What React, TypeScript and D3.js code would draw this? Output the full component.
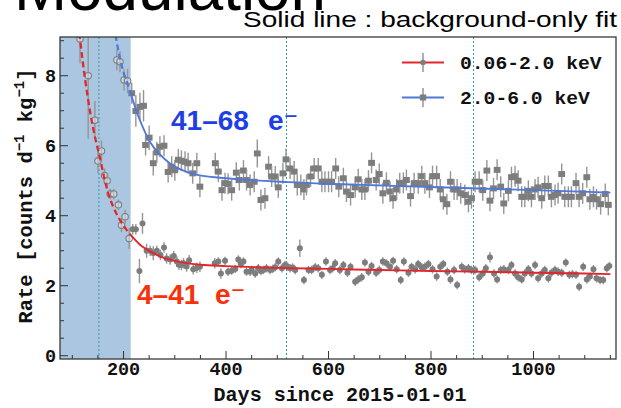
import React from "react";
import * as d3 from "d3";

// ---- data -------------------------------------------------------------
// [day, rate, error] for the low-energy band (0.06-2.0 keV)
const lowBand: [number, number, number][] = [
  [115, 9.05, 0.7], [131, 8.0, 1.8], [144, 6.73, 0.55], [150, 5.56, 0.35], [157, 5.85, 0.3],
  [163, 5.15, 0.2], [168, 5.0, 0.2], [174, 4.62, 0.15], [181, 4.62, 0.15], [190, 4.31, 0.15],
  [196, 3.73, 0.2], [203, 3.97, 0.2], [211, 3.35, 0.3],
  [218, 3.61, 0.15], [224, 3.61, 0.15], [231, 2.42, 0.35], [237, 3.78, 0.3], [245, 3.0, 0.2],
  [252, 3.0, 0.15], [258, 2.93, 0.2], [265, 3.0, 0.15], [272, 2.88, 0.15], [279, 3.09, 0.15],
  [284, 2.78, 0.15], [291, 2.75, 0.15], [298, 2.85, 0.15], [304, 2.69, 0.15], [308, 2.6, 0.15],
  [313, 2.59, 0.15], [317, 2.64, 0.15], [323, 2.55, 0.15], [328, 2.73, 0.15], [336, 2.47, 0.15],
  [343, 2.51, 0.15], [349, 2.54, 0.15],
  [378, 2.64, 0.15], [385, 2.69, 0.12], [390, 2.35, 0.15], [398, 2.71, 0.12], [404, 2.4, 0.12],
  [411, 2.43, 0.12], [418, 2.48, 0.12], [424, 2.75, 0.12], [429, 2.62, 0.12], [434, 2.69, 0.12],
  [440, 2.4, 0.12], [447, 2.4, 0.12], [450, 2.45, 0.12], [457, 2.35, 0.12], [463, 2.5, 0.12],
  [468, 2.42, 0.12], [473, 2.45, 0.12], [479, 2.5, 0.12], [486, 2.45, 0.12], [491, 2.48, 0.12],
  [496, 2.53, 0.12], [502, 2.69, 0.12], [509, 2.5, 0.12], [515, 2.59, 0.12], [520, 2.55, 0.12],
  [525, 2.5, 0.12], [530, 2.52, 0.12], [535, 2.45, 0.12], [544, 3.07, 0.25], [552, 2.16, 0.12],
  [561, 2.45, 0.12], [567, 2.45, 0.12], [574, 2.53, 0.12], [580, 2.5, 0.12], [587, 2.31, 0.12],
  [595, 2.69, 0.12], [603, 2.45, 0.12], [608, 2.5, 0.12], [613, 2.64, 0.12], [622, 2.45, 0.12],
  [629, 2.59, 0.12], [637, 2.37, 0.12], [643, 2.54, 0.12], [652, 2.11, 0.12], [658, 2.18, 0.12],
  [665, 2.24, 0.12], [671, 2.66, 0.12], [678, 2.4, 0.12], [684, 2.56, 0.12], [693, 2.37, 0.12],
  [699, 2.45, 0.12], [706, 2.69, 0.12], [713, 2.64, 0.12], [720, 2.54, 0.12], [726, 2.71, 0.12],
  [733, 2.47, 0.12], [741, 2.16, 0.12], [747, 2.69, 0.12], [756, 2.37, 0.12], [762, 2.54, 0.12],
  [769, 2.47, 0.12], [775, 2.62, 0.12], [782, 2.53, 0.12], [788, 2.54, 0.12], [795, 2.62, 0.12],
  [803, 2.47, 0.12], [811, 2.26, 0.12], [818, 2.54, 0.12], [824, 2.62, 0.12], [832, 2.4, 0.12],
  [838, 2.18, 0.12], [845, 2.45, 0.12], [851, 2.02, 0.12], [860, 2.54, 0.12], [866, 2.47, 0.12],
  [873, 2.5, 0.12], [879, 2.45, 0.12], [886, 2.45, 0.12], [894, 2.24, 0.12], [901, 2.35, 0.12],
  [907, 2.5, 0.12], [915, 2.81, 0.15], [923, 2.35, 0.12], [929, 2.18, 0.12], [936, 2.45, 0.12],
  [942, 2.47, 0.12], [951, 2.45, 0.12], [957, 2.59, 0.12], [964, 2.35, 0.12], [970, 2.24, 0.12],
  [977, 2.18, 0.12], [983, 2.35, 0.12], [990, 2.47, 0.12], [996, 2.35, 0.12], [1003, 2.59, 0.12],
  [1009, 2.21, 0.12], [1016, 2.35, 0.12], [1022, 2.45, 0.12], [1029, 2.21, 0.12], [1035, 2.37, 0.12],
  [1042, 2.45, 0.12], [1048, 2.4, 0.12], [1055, 2.37, 0.12], [1063, 2.66, 0.12], [1070, 2.31, 0.12],
  [1076, 2.33, 0.12], [1083, 2.31, 0.12], [1089, 1.97, 0.12], [1097, 2.54, 0.12], [1104, 2.18, 0.12],
  [1110, 2.26, 0.12], [1117, 2.47, 0.12], [1123, 2.21, 0.12], [1130, 2.16, 0.12], [1136, 2.16, 0.12],
  [1143, 2.5, 0.12], [1148, 2.56, 0.12],
];

// [day, rate, error] for the high-energy band (2.0-6.0 keV)
const highBand: [number, number, number][] = [
  [187, 8.45, 0.3], [193, 8.4, 0.3], [201, 7.88, 0.3], [208, 7.85, 0.35],
  [216, 7.5, 0.3], [224, 6.99, 0.45], [232, 7.11, 0.4], [239, 7.14, 0.45], [243, 6.02, 0.3],
  [250, 6.23, 0.35], [258, 5.5, 0.35], [265, 5.81, 0.3], [271, 5.97, 0.3], [279, 6.0, 0.3],
  [287, 5.25, 0.3], [294, 5.4, 0.3], [300, 5.3, 0.3], [307, 5.6, 0.3], [313, 5.57, 0.3],
  [320, 5.54, 0.3], [326, 5.5, 0.3], [335, 5.21, 0.3], [343, 5.5, 0.3], [349, 4.83, 0.3],
  [379, 5.5, 0.3], [385, 5.26, 0.3], [392, 4.73, 0.3], [398, 4.93, 0.3], [404, 4.91, 0.3],
  [411, 4.73, 0.3], [420, 5.23, 0.3], [426, 5.02, 0.3], [434, 5.29, 0.3], [440, 5.02, 0.3],
  [447, 4.88, 0.3], [455, 4.97, 0.3], [461, 5.78, 0.4], [468, 4.45, 0.3], [476, 4.5, 0.3],
  [483, 5.4, 0.3], [489, 5.12, 0.3], [496, 5.12, 0.3], [502, 4.81, 0.3], [511, 5.21, 0.3],
  [517, 5.61, 0.3], [525, 5.35, 0.3], [533, 5.26, 0.3], [539, 4.88, 0.3], [546, 4.88, 0.3],
  [552, 4.75, 0.3], [557, 4.88, 0.3], [565, 5.12, 0.3], [572, 5.35, 0.3], [580, 5.35, 0.3],
  [587, 4.97, 0.3], [593, 4.97, 0.3], [600, 4.97, 0.3], [606, 4.97, 0.3], [614, 5.35, 0.3],
  [620, 4.83, 0.3],
  [629, 5.07, 0.3], [635, 4.69, 0.3], [643, 4.59, 0.3], [652, 4.81, 0.3], [658, 5.04, 0.3],
  [665, 4.75, 0.3], [671, 4.75, 0.3], [678, 5.0, 0.3], [684, 5.51, 0.3], [693, 5.02, 0.3],
  [699, 5.19, 0.3], [706, 4.64, 0.3], [713, 4.94, 0.3], [720, 4.69, 0.3], [726, 4.5, 0.3],
  [733, 4.75, 0.3], [739, 4.93, 0.3], [746, 4.94, 0.3], [752, 5.02, 0.3], [760, 4.56, 0.3],
  [767, 4.93, 0.3], [775, 4.93, 0.3], [782, 5.13, 0.3], [788, 4.93, 0.3], [797, 4.81, 0.3],
  [803, 5.13, 0.3], [811, 5.13, 0.3], [818, 4.75, 0.3], [824, 4.47, 0.3], [831, 4.33, 0.3],
  [838, 4.97, 0.3], [845, 4.75, 0.3], [851, 4.75, 0.3], [858, 4.64, 0.3], [866, 4.59, 0.3],
  [873, 4.4, 0.3], [879, 4.5, 0.3], [886, 4.97, 0.3], [894, 4.97, 0.3], [901, 4.73, 0.3],
  [909, 5.29, 0.3], [915, 4.43, 0.3], [922, 4.78, 0.3], [929, 5.31, 0.3], [936, 4.83, 0.3],
  [942, 4.35, 0.3], [951, 4.71, 0.3], [957, 5.1, 0.3], [964, 5.13, 0.3], [970, 5.0, 0.3],
  [977, 4.54, 0.3], [983, 4.54, 0.3], [990, 4.71, 0.3], [996, 4.54, 0.3], [1003, 4.75, 0.3],
  [1009, 4.81, 0.3], [1016, 4.5, 0.3], [1022, 4.85, 0.3], [1029, 4.85, 0.3], [1035, 4.54, 0.3],
  [1042, 4.59, 0.3], [1048, 4.64, 0.3], [1055, 5.19, 0.3], [1061, 4.54, 0.3], [1068, 4.54, 0.3],
  [1074, 4.54, 0.3], [1083, 4.93, 0.3], [1089, 4.54, 0.3], [1096, 4.64, 0.3], [1104, 5.1, 0.3],
  [1110, 4.47, 0.3], [1117, 4.54, 0.3], [1123, 4.47, 0.3], [1131, 4.33, 0.3], [1140, 4.62, 0.3],
  [1146, 4.31, 0.3],
];

// background-only fit curves, [day, rate]
const lowFit: [number, number][] = [
  [106, 10.3], [115, 9.05], [125, 7.9], [135, 6.95], [145, 6.2], [154, 5.65], [162, 5.1],
  [170, 4.65], [180, 4.25], [193, 3.88], [203, 3.65], [214, 3.45], [230, 3.2], [252, 2.98],
  [275, 2.82], [300, 2.71], [350, 2.6], [400, 2.56], [500, 2.51], [600, 2.48], [700, 2.45],
  [800, 2.42], [900, 2.4], [1000, 2.37], [1100, 2.35], [1150, 2.33],
];
const highFit: [number, number][] = [
  [178, 9.7], [185, 9.1], [193, 8.5], [200, 8.1], [207, 7.8], [214, 7.5], [225, 7.0],
  [235, 6.62], [252, 6.1], [271, 5.75], [290, 5.5], [310, 5.33], [340, 5.18], [400, 5.07],
  [520, 4.96], [627, 4.9], [800, 4.82], [1000, 4.73], [1150, 4.66],
];

const shadeEnd = 214; // end of the excluded early period
const markerDays = [152, 518, 883];
const xMajorTicks = [200, 400, 600, 800, 1000];
const yMajorTicks = [0, 2, 4, 6, 8];
const legendLabels = ["0.06-2.0 keV", "2.0-6.0 keV"];

// ---- layout -----------------------------------------------------------
const W = 621;
const H = 408;
const plot = { left: 60, right: 616, top: 37, bottom: 359 };

const x = d3.scaleLinear().domain([76, 1161]).range([plot.left, plot.right]);
const y = d3.scaleLinear().domain([-0.094, 9.106]).range([plot.bottom, plot.top]);

const RED = "#e3262c";
const BLUE = "#4f78d8";
const GRAY = "#7d7d7d";
const BAR = "#959595";
const TEAL = "#2a9d9d";
const mono = "'Liberation Mono', 'DejaVu Sans Mono', monospace";
const sans = "'Liberation Sans', Arial, 'DejaVu Sans', sans-serif";

const line = d3
  .line<[number, number]>()
  .x((d) => x(d[0]))
  .y((d) => y(d[1]))
  .curve(d3.curveMonotoneX);

function Points({ data, square }: { data: [number, number, number][]; square: boolean }) {
  return (
    <g>
      {data.map(([day, rate, err], i) => {
        const cx = x(day);
        const cy = y(rate);
        const open = day < shadeEnd;
        return (
          <g key={i}>
            <line x1={cx} x2={cx} y1={y(rate - err)} y2={y(rate + err)} stroke={BAR} strokeWidth={1.4} />
            {open ? (
              <circle cx={cx} cy={cy} r={3.2} fill="rgba(255,255,255,0.35)" stroke={GRAY} strokeWidth={1.1} />
            ) : square ? (
              <rect x={cx - 3.4} y={cy - 3} width={6.8} height={6} fill={GRAY} />
            ) : (
              <circle cx={cx} cy={cy} r={3} fill={GRAY} />
            )}
          </g>
        );
      })}
    </g>
  );
}

function FitLine({ data, color }: { data: [number, number][]; color: string }) {
  const early = data.filter((d) => d[0] <= shadeEnd);
  const late = data.filter((d) => d[0] >= shadeEnd);
  return (
    <g fill="none" stroke={color}>
      <path d={line(early) || ""} strokeWidth={2.3} strokeDasharray="6,3.5" />
      <path d={line(late) || ""} strokeWidth={1.9} />
    </g>
  );
}

export default function App() {
  const xMinor = d3.range(100, 1151, 50);
  const yMinor = d3.range(0, 9.01, 0.5);
  return (
    <svg width={W} height={H} style={{ position: "absolute", left: 0, top: 0, background: "#fff" }}>
      <defs>
        <clipPath id="plotClip">
          <rect x={plot.left} y={plot.top} width={plot.right - plot.left} height={plot.bottom - plot.top} />
        </clipPath>
      </defs>

      {/* heading */}
      <text x={14} y={10} fontFamily={sans} fontSize={64} fill="#000" textLength={312} lengthAdjust="spacingAndGlyphs">
        Modulation
      </text>
      <text x={243} y={26.5} fontFamily={sans} fontSize={22.5} fill="#000" textLength={374} lengthAdjust="spacingAndGlyphs">
        Solid line : background-only fit
      </text>

      <g clipPath="url(#plotClip)">
        <rect x={x(76)} y={plot.top} width={x(shadeEnd) - x(76)} height={plot.bottom - plot.top} fill="#aac6e0" />
        {markerDays.map((d) => (
          <line key={d} x1={x(d)} x2={x(d)} y1={plot.top} y2={plot.bottom} stroke={TEAL} strokeWidth={1} strokeDasharray="2,2" />
        ))}
        <Points data={highBand} square={true} />
        <Points data={lowBand} square={false} />
        <FitLine data={highFit} color={BLUE} />
        <FitLine data={lowFit} color={RED} />
      </g>

      {/* ticks */}
      <g stroke="#333" strokeWidth={1}>
        {xMinor.map((d) => (
          <line key={"xm" + d} x1={x(d)} x2={x(d)} y1={plot.bottom} y2={plot.bottom - (xMajorTicks.includes(d) ? 8 : 4)} />
        ))}
        {yMinor.map((v) => (
          <line key={"ym" + v} x1={plot.left} x2={plot.left + (v % 2 === 0 ? 8 : 4)} y1={y(v)} y2={y(v)} />
        ))}
      </g>
      <rect x={plot.left} y={plot.top} width={plot.right - plot.left} height={plot.bottom - plot.top} fill="none" stroke="#3a3a3a" strokeWidth={1.3} />

      <g fontFamily={mono} fontWeight="bold" fontSize={18.5} fill="#111">
        {xMajorTicks.map((d) => (
          <text key={d} x={x(d)} y={375} textAnchor="middle">
            {d}
          </text>
        ))}
        {yMajorTicks.map((v) => (
          <text key={v} x={56} y={y(v)} dy="0.35em" textAnchor="end">
            {v}
          </text>
        ))}
      </g>

      {/* axis titles */}
      <text x={340} y={401} fontFamily={mono} fontWeight="bold" fontSize={19.5} textAnchor="middle" textLength={253} lengthAdjust="spacingAndGlyphs" fill="#111">
        Days since 2015-01-01
      </text>
      <text transform="translate(32,196) rotate(-90)" fontFamily={mono} fontWeight="bold" fontSize={20.5} textAnchor="middle" fill="#111">
        Rate [counts d
        <tspan fontSize={14} dy={-8}>−1</tspan>
        <tspan dy={8}> kg</tspan>
        <tspan fontSize={14} dy={-8}>−1</tspan>
        <tspan dy={8}>]</tspan>
      </text>

      {/* legend */}
      {legendLabels.map((label, i) => {
        const ly = i === 0 ? 62.5 : 97.5;
        const color = i === 0 ? RED : BLUE;
        return (
          <g key={label}>
            <line x1={402} x2={444} y1={ly} y2={ly} stroke={color} strokeWidth={1.9} />
            <line x1={423} x2={423} y1={ly - 9.5} y2={ly + 9.5} stroke={BAR} strokeWidth={1.5} />
            {i === 0 ? (
              <circle cx={423} cy={ly} r={2.8} fill={GRAY} />
            ) : (
              <rect x={419.8} y={ly - 3} width={6.4} height={6} fill={GRAY} />
            )}
            <text x={460} y={ly + 6} fontFamily={mono} fontWeight="bold" fontSize={19} fill="#111" textLength={label.length * 11.8} lengthAdjust="spacingAndGlyphs">
              {label}
            </text>
          </g>
        );
      })}

      {/* band annotations */}
      <g fontFamily={sans} fontWeight="bold" fontSize={28}>
        <text y={130} fill="#1f3fe6">
          <tspan x={171}>41–68</tspan>
          <tspan x={268}>e⁻</tspan>
        </text>
        <text y={303.5} fill="#f8310c">
          <tspan x={137}>4–41</tspan>
          <tspan x={215}>e⁻</tspan>
        </text>
      </g>
    </svg>
  );
}
